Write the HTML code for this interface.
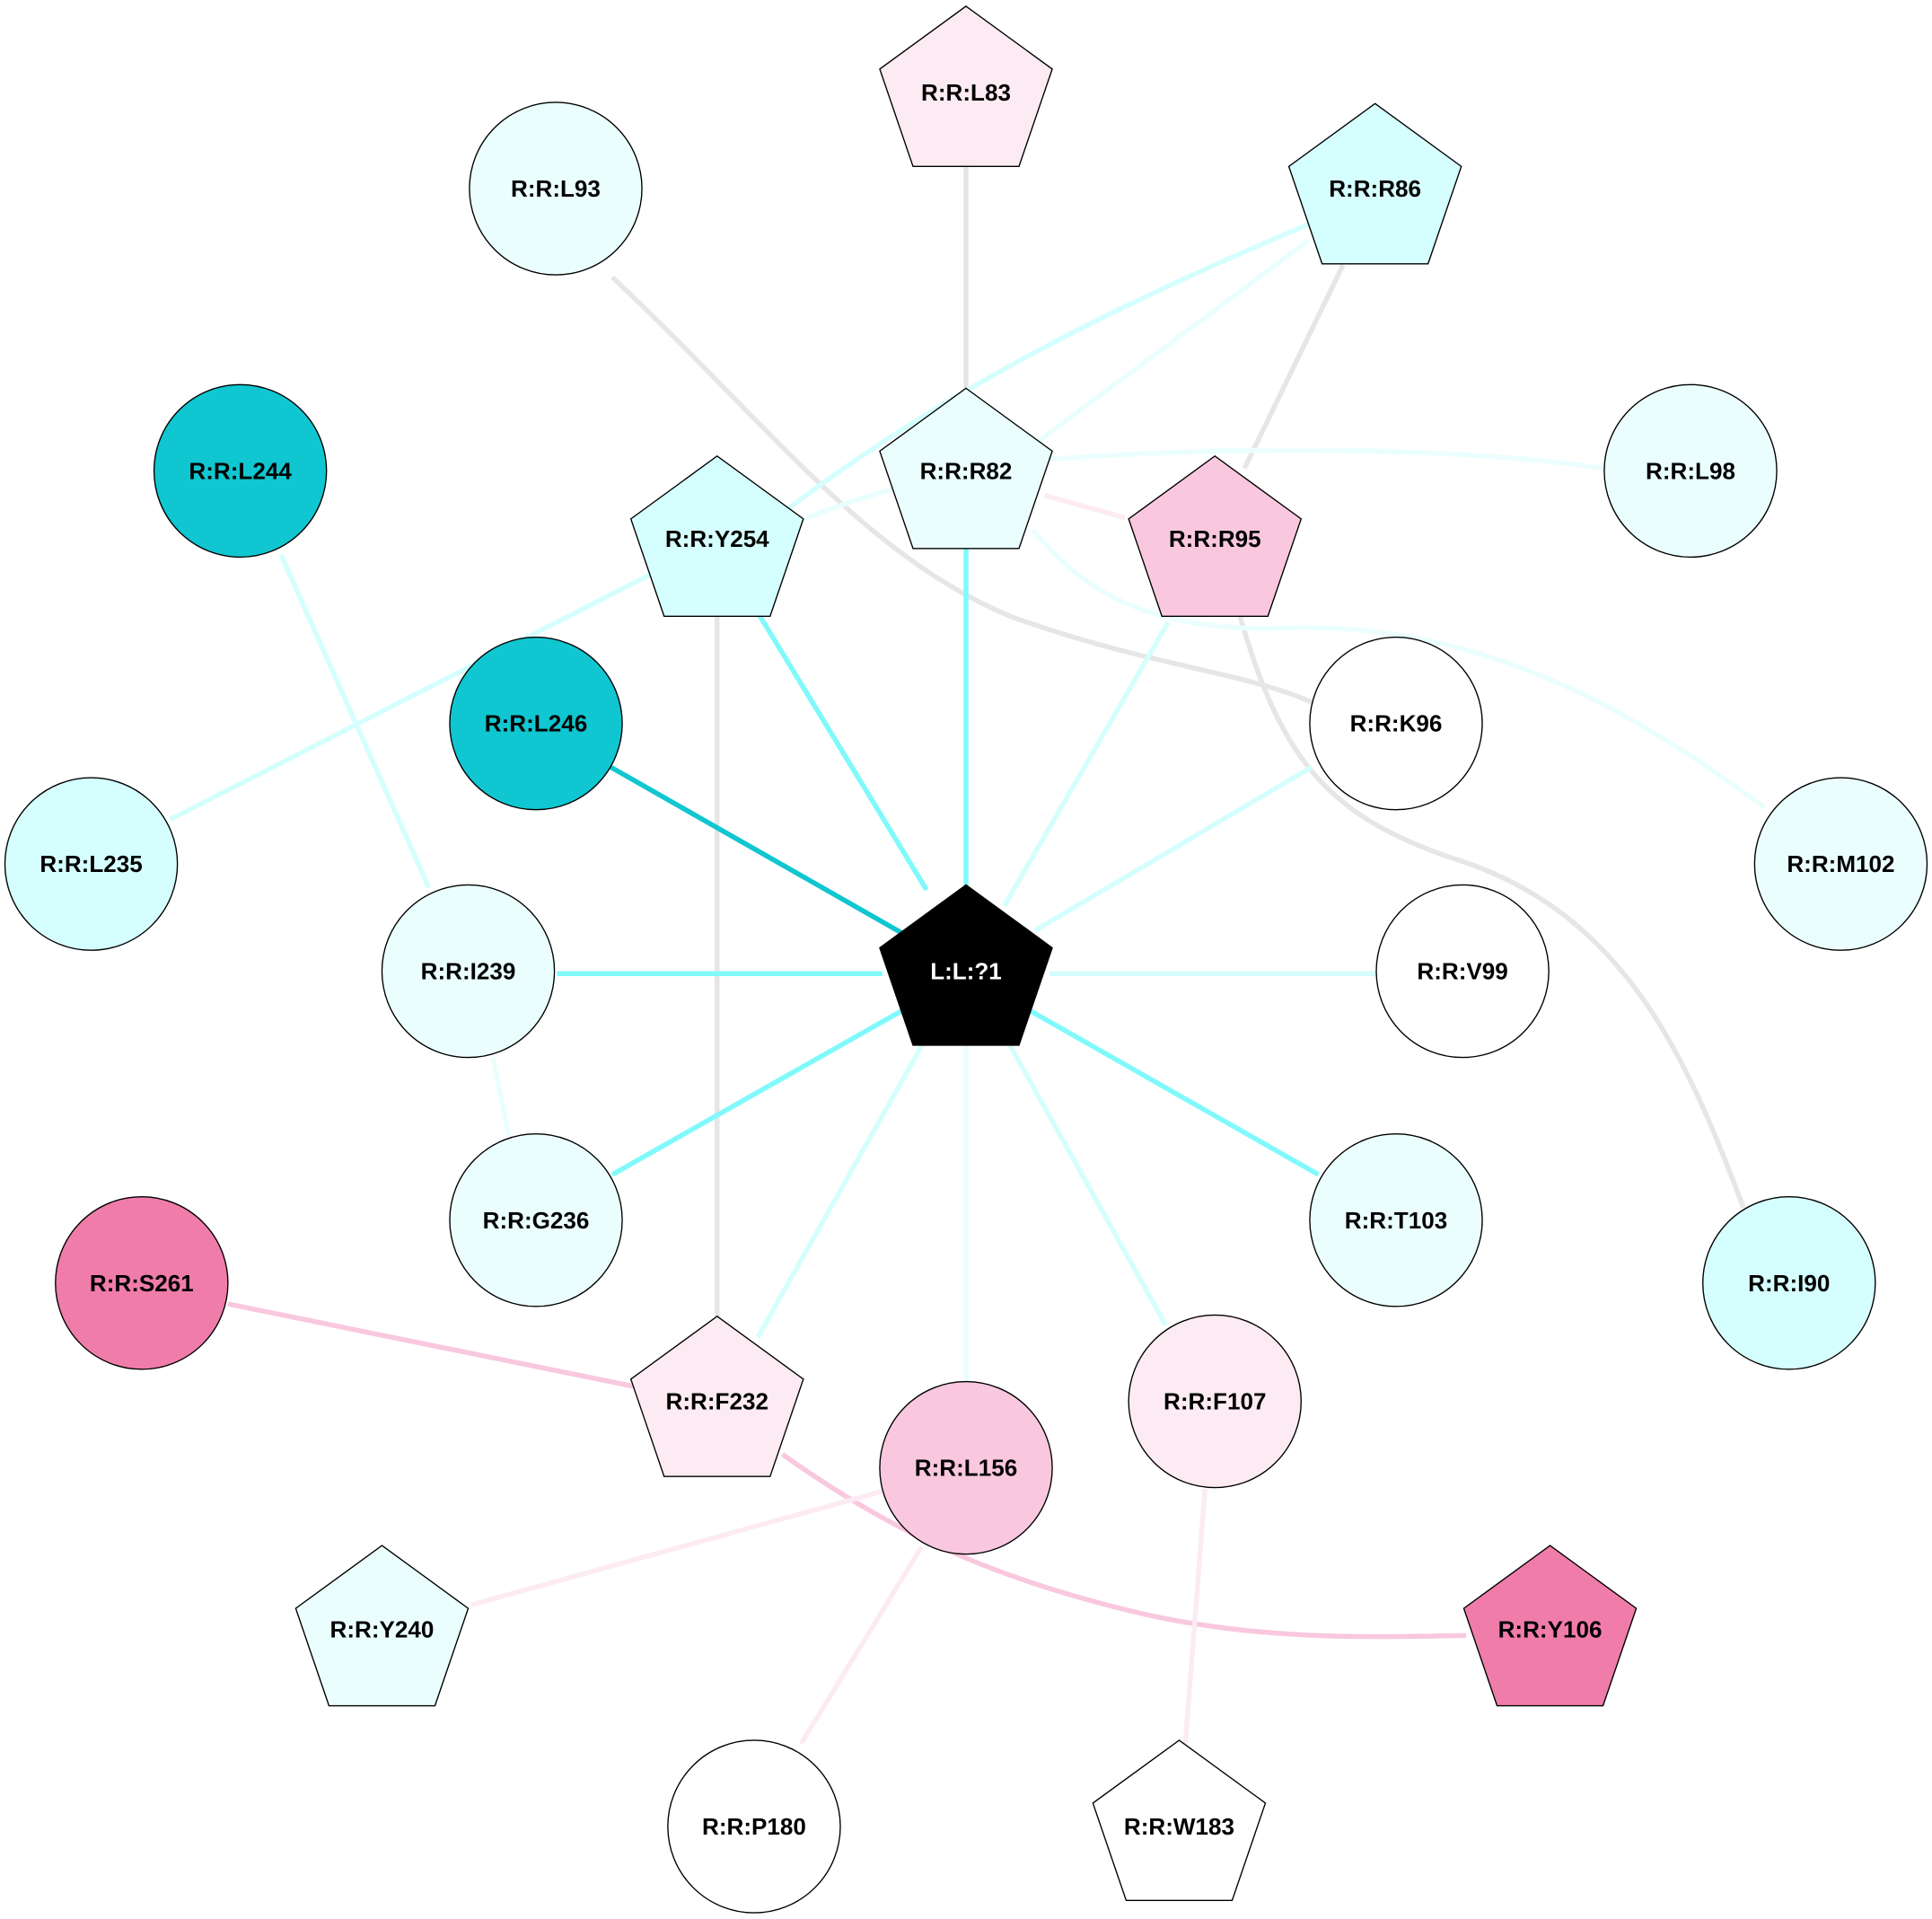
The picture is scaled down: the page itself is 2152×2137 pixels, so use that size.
<!DOCTYPE html>
<html><head><meta charset="utf-8"><style>
html,body{margin:0;padding:0;background:#fff;}
svg{display:block;}
text{font-family:"Liberation Sans",Arial,sans-serif;font-weight:bold;font-size:19px;text-anchor:middle;dominant-baseline:central;}
</style></head><body>
<svg width="2152" height="2137" viewBox="0 0 1568 1557" xmlns="http://www.w3.org/2000/svg">
<g fill="none" stroke-width="4" stroke-linecap="butt">
<line x1="784" y1="130" x2="784" y2="315" stroke="#e6e6e6"/>
<path d="M497,225 C620,340 700,450 820,500 C930,540 1010,545 1065,570" stroke="#e6e6e6"/>
<line x1="1090" y1="215" x2="1010" y2="380" stroke="#e6e6e6"/>
<path d="M1005,495 C1040,620 1080,665 1190,700 C1320,745 1370,860 1415,980" stroke="#e6e6e6"/>
<line x1="582" y1="497" x2="582" y2="1070" stroke="#e6e6e6"/>
<path d="M1062,182 C900,250 760,320 630,420" stroke="#d5fefe"/>
<line x1="1062" y1="195" x2="840" y2="360" stroke="#ebfefe"/>
<path d="M655,420 C720,395 800,375 860,372 C1000,362 1180,362 1302,380" stroke="#ebfefe"/>
<line x1="848" y1="402" x2="913" y2="420" stroke="#fcebf3"/>
<path d="M838,430 C880,480 930,510 1030,510 C1200,500 1330,580 1432,655" stroke="#ebfefe"/>
<line x1="228" y1="450" x2="348" y2="720" stroke="#d5fefe"/>
<line x1="530" y1="465" x2="138" y2="665" stroke="#d5fefe"/>
<line x1="615" y1="497" x2="752" y2="722" stroke="#80f9fb"/>
<line x1="784" y1="445" x2="784" y2="720" stroke="#80f9fb"/>
<line x1="948" y1="505" x2="815" y2="735" stroke="#d5fefe"/>
<line x1="495" y1="622" x2="732" y2="757" stroke="#10c6d0"/>
<line x1="1065" y1="622" x2="840" y2="755" stroke="#d5fefe"/>
<line x1="452" y1="790" x2="716" y2="790" stroke="#80f9fb"/>
<line x1="852" y1="790" x2="1117" y2="790" stroke="#d5fefe"/>
<line x1="497" y1="953" x2="732" y2="820" stroke="#80f9fb"/>
<line x1="836" y1="820" x2="1070" y2="953" stroke="#80f9fb"/>
<line x1="400" y1="858" x2="413" y2="922" stroke="#ebfefe"/>
<line x1="615" y1="1085" x2="750" y2="845" stroke="#d5fefe"/>
<line x1="784" y1="845" x2="784" y2="1121" stroke="#ebfefe"/>
<line x1="946" y1="1075" x2="818" y2="845" stroke="#d5fefe"/>
<line x1="185" y1="1058" x2="515" y2="1125" stroke="#f9c8de"/>
<path d="M635,1180 C720,1240 800,1280 930,1310 C1030,1332 1120,1328 1190,1327" stroke="#f9c8de"/>
<line x1="716" y1="1210" x2="383" y2="1302" stroke="#fcebf3"/>
<line x1="748" y1="1255" x2="650" y2="1415" stroke="#fcebf3"/>
<line x1="978" y1="1208" x2="962" y2="1415" stroke="#fcebf3"/>
</g>
<g stroke="#000" stroke-width="1">
<circle cx="451" cy="153" r="70" fill="#ebfefe"/>
<circle cx="195" cy="382" r="70" fill="#10c6d0"/>
<circle cx="1372" cy="382" r="70" fill="#ebfefe"/>
<circle cx="435" cy="587" r="70" fill="#10c6d0"/>
<circle cx="1133" cy="587" r="70" fill="#ffffff"/>
<circle cx="74" cy="701" r="70" fill="#d5fefe"/>
<circle cx="1494" cy="701" r="70" fill="#ebfefe"/>
<circle cx="380" cy="788" r="70" fill="#ebfefe"/>
<circle cx="1187" cy="788" r="70" fill="#ffffff"/>
<circle cx="435" cy="990" r="70" fill="#ebfefe"/>
<circle cx="1133" cy="990" r="70" fill="#ebfefe"/>
<circle cx="115" cy="1041" r="70" fill="#f07caa"/>
<circle cx="1452" cy="1041" r="70" fill="#d5fefe"/>
<circle cx="986" cy="1137" r="70" fill="#fcebf3"/>
<circle cx="784" cy="1191" r="70" fill="#f9c8de"/>
<circle cx="612" cy="1482" r="70" fill="#ffffff"/>
<polygon points="0,-72 70,-21 43,58 -43,58 -70,-21" fill="#fcebf3" transform="translate(784,77)"/>
<polygon points="0,-72 70,-21 43,58 -43,58 -70,-21" fill="#d5fefe" transform="translate(1116,156)"/>
<polygon points="0,-72 70,-21 43,58 -43,58 -70,-21" fill="#ebfefe" transform="translate(784,387)"/>
<polygon points="0,-72 70,-21 43,58 -43,58 -70,-21" fill="#d5fefe" transform="translate(582,442)"/>
<polygon points="0,-72 70,-21 43,58 -43,58 -70,-21" fill="#f9c8de" transform="translate(986,442)"/>
<polygon points="0,-72 70,-21 43,58 -43,58 -70,-21" fill="#000000" transform="translate(784,790)"/>
<polygon points="0,-72 70,-21 43,58 -43,58 -70,-21" fill="#fcebf3" transform="translate(582,1140)"/>
<polygon points="0,-72 70,-21 43,58 -43,58 -70,-21" fill="#ebfefe" transform="translate(310,1326)"/>
<polygon points="0,-72 70,-21 43,58 -43,58 -70,-21" fill="#f07caa" transform="translate(1258,1326)"/>
<polygon points="0,-72 70,-21 43,58 -43,58 -70,-21" fill="#ffffff" transform="translate(957,1484)"/>
</g>
<g fill="#000">
<text x="784" y="75">R:R:L83</text>
<text x="451" y="153">R:R:L93</text>
<text x="1116" y="153">R:R:R86</text>
<text x="195" y="382">R:R:L244</text>
<text x="784" y="382">R:R:R82</text>
<text x="1372" y="382">R:R:L98</text>
<text x="582" y="437">R:R:Y254</text>
<text x="986" y="437">R:R:R95</text>
<text x="435" y="587">R:R:L246</text>
<text x="1133" y="587">R:R:K96</text>
<text x="74" y="701">R:R:L235</text>
<text x="1494" y="701">R:R:M102</text>
<text x="380" y="788">R:R:I239</text>
<text x="784" y="788" fill="#fff">L:L:?1</text>
<text x="1187" y="788">R:R:V99</text>
<text x="435" y="990">R:R:G236</text>
<text x="1133" y="990">R:R:T103</text>
<text x="115" y="1041">R:R:S261</text>
<text x="1452" y="1041">R:R:I90</text>
<text x="582" y="1137">R:R:F232</text>
<text x="986" y="1137">R:R:F107</text>
<text x="784" y="1191">R:R:L156</text>
<text x="310" y="1322">R:R:Y240</text>
<text x="1258" y="1322">R:R:Y106</text>
<text x="612" y="1482">R:R:P180</text>
<text x="957" y="1482">R:R:W183</text>
</g>
</svg>
</body></html>
